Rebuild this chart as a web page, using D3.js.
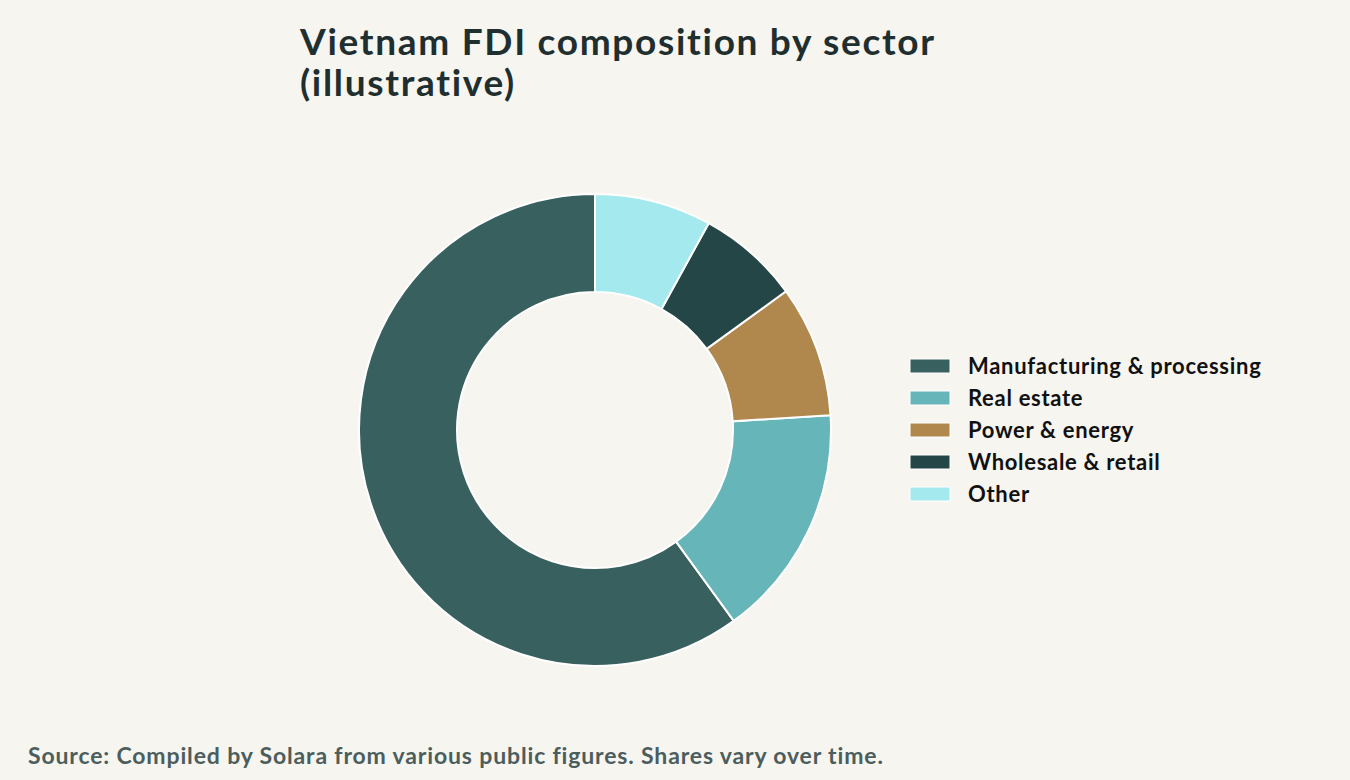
<!DOCTYPE html>
<html lang="en">
<head>
    <meta charset="UTF-8">
    <title>Vietnam FDI composition by sector</title>
    <style>
        body {
            margin: 0;
            background-color: #f6f5f0;
            font-family: "Source Sans Pro", "Lato", "Noto Sans", sans-serif;
        }
        .title {
            font-size: 37px;
            font-weight: 700;
            letter-spacing: 1.7px;
            fill: #1f2e2e;
        }
        .legend-label {
            font-size: 22px;
            font-weight: 700;
            letter-spacing: 0.7px;
            fill: #111;
        }
        .source {
            font-size: 23px;
            font-weight: 700;
            letter-spacing: 0.85px;
            fill: #4c5d5d;
        }
    </style>
</head>
<body>
    <div id="chart"></div>

    <script src="https://d3js.org/d3.v7.min.js"></script>
    <script>
        const width = 1350;
        const height = 780;

        // sectors and their share (%)
        const sectors = ["Manufacturing & processing", "Real estate", "Power & energy", "Wholesale & retail", "Other"];
        const shares = [60, 16, 9, 7, 8];
        const colors = ["#37605f", "#66b5b8", "#b0884e", "#254646", "#a3e9ed"];
        const titleLines = ["Vietnam FDI composition by sector", "(illustrative)"];

        const data = sectors.map((s, i) => ({ sector: s, share: shares[i] }));

        const cx = 595;
        const cy = 430;
        const outerR = 236;
        const innerR = 138;

        const svg = d3.select("#chart")
            .append("svg")
            .attr("width", width)
            .attr("height", height);

        svg.append("text")
            .attr("class", "title")
            .attr("x", 300)
            .attr("y", 55)
            .selectAll("tspan")
            .data(titleLines)
            .enter().append("tspan")
            .attr("x", 300)
            .attr("dy", (d, i) => i === 0 ? 0 : 41)
            .text(d => d);

        const color = d3.scaleOrdinal().domain(sectors).range(colors);

        // counterclockwise from 12 o'clock
        const pie = d3.pie()
            .sort(null)
            .value(d => d.share)
            .startAngle(0)
            .endAngle(-2 * Math.PI);

        const arc = d3.arc()
            .innerRadius(innerR)
            .outerRadius(outerR);

        svg.append("g")
            .attr("transform", `translate(${cx},${cy})`)
            .selectAll("path")
            .data(pie(data))
            .enter().append("path")
            .attr("d", arc)
            .attr("fill", d => color(d.data.sector))
            .attr("stroke", "#ffffff")
            .attr("stroke-width", 2);

        const legend = svg.append("g")
            .attr("transform", "translate(910,366)");

        const item = legend.selectAll(".legend-item")
            .data(sectors)
            .enter().append("g")
            .attr("class", "legend-item")
            .attr("transform", (d, i) => `translate(0,${i * 32})`);

        item.append("rect")
            .attr("x", 0)
            .attr("y", -7)
            .attr("width", 40)
            .attr("height", 14)
            .attr("fill", d => color(d))
            .attr("stroke", "#ffffff")
            .attr("stroke-width", 1);

        item.append("text")
            .attr("class", "legend-label")
            .attr("x", 58)
            .attr("y", 8)
            .text(d => d);

        svg.append("text")
            .attr("class", "source")
            .attr("x", 28)
            .attr("y", 764)
            .text("Source: Compiled by Solara from various public figures. Shares vary over time.");
    </script>
</body>
</html>
